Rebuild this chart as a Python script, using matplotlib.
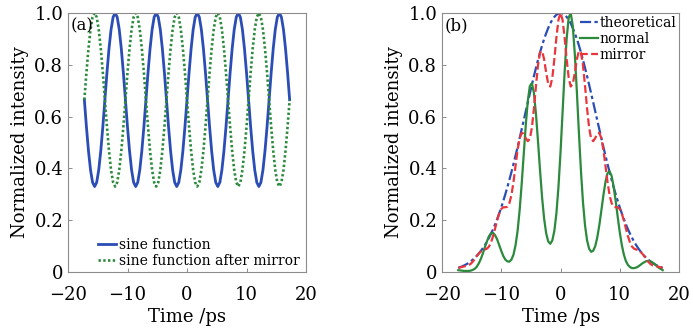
import numpy as np
import matplotlib
matplotlib.use("Agg")
import matplotlib.pyplot as plt

plt.rcParams['font.family'] = ['DejaVu Serif']
plt.rcParams['mathtext.fontset'] = 'dejavuserif'

# ---- time grid (ps) shared by all curves ----
t_start, t_end, n_pts = -17.25, 17.25, 101
time_ps = np.linspace(t_start, t_end, n_pts)

# ---- panel (a) ----
sine_function = [
    0.665, 0.561, 0.468, 0.394, 0.346, 0.330, 0.346, 0.394, 0.468, 0.561,
    0.665, 0.769, 0.862, 0.936, 0.984, 1.000, 0.984, 0.936, 0.862, 0.769,
    0.665, 0.561, 0.468, 0.394, 0.346, 0.330, 0.346, 0.394, 0.468, 0.561,
    0.665, 0.769, 0.862, 0.936, 0.984, 1.000, 0.984, 0.936, 0.862, 0.769,
    0.665, 0.561, 0.468, 0.394, 0.346, 0.330, 0.346, 0.394, 0.468, 0.561,
    0.665, 0.769, 0.862, 0.936, 0.984, 1.000, 0.984, 0.936, 0.862, 0.769,
    0.665, 0.561, 0.468, 0.394, 0.346, 0.330, 0.346, 0.394, 0.468, 0.561,
    0.665, 0.769, 0.862, 0.936, 0.984, 1.000, 0.984, 0.936, 0.862, 0.769,
    0.665, 0.561, 0.468, 0.394, 0.346, 0.330, 0.346, 0.394, 0.468, 0.561,
    0.665, 0.769, 0.862, 0.936, 0.984, 1.000, 0.984, 0.936, 0.862, 0.769,
    0.665,
]
sine_after_mirror = [
    0.665, 0.769, 0.862, 0.936, 0.984, 1.000, 0.984, 0.936, 0.862, 0.769,
    0.665, 0.561, 0.468, 0.394, 0.346, 0.330, 0.346, 0.394, 0.468, 0.561,
    0.665, 0.769, 0.862, 0.936, 0.984, 1.000, 0.984, 0.936, 0.862, 0.769,
    0.665, 0.561, 0.468, 0.394, 0.346, 0.330, 0.346, 0.394, 0.468, 0.561,
    0.665, 0.769, 0.862, 0.936, 0.984, 1.000, 0.984, 0.936, 0.862, 0.769,
    0.665, 0.561, 0.468, 0.394, 0.346, 0.330, 0.346, 0.394, 0.468, 0.561,
    0.665, 0.769, 0.862, 0.936, 0.984, 1.000, 0.984, 0.936, 0.862, 0.769,
    0.665, 0.561, 0.468, 0.394, 0.346, 0.330, 0.346, 0.394, 0.468, 0.561,
    0.665, 0.769, 0.862, 0.936, 0.984, 1.000, 0.984, 0.936, 0.862, 0.769,
    0.665, 0.561, 0.468, 0.394, 0.346, 0.330, 0.346, 0.394, 0.468, 0.561,
    0.665,
]

# ---- panel (b) ----
theoretical = [
    0.016, 0.019, 0.022, 0.026, 0.030, 0.035, 0.041, 0.047, 0.054, 0.062,
    0.071, 0.081, 0.092, 0.104, 0.117, 0.132, 0.148, 0.165, 0.184, 0.204,
    0.226, 0.249, 0.274, 0.300, 0.327, 0.356, 0.386, 0.417, 0.449, 0.482,
    0.516, 0.551, 0.585, 0.620, 0.655, 0.689, 0.723, 0.756, 0.788, 0.819,
    0.848, 0.875, 0.900, 0.922, 0.942, 0.960, 0.974, 0.985, 0.993, 0.998,
    1.000,
    0.998, 0.993, 0.985, 0.974, 0.960, 0.942, 0.922, 0.900, 0.875, 0.848,
    0.819, 0.788, 0.756, 0.723, 0.689, 0.655, 0.620, 0.585, 0.551, 0.516,
    0.482, 0.449, 0.417, 0.386, 0.356, 0.327, 0.300, 0.274, 0.249, 0.226,
    0.204, 0.184, 0.165, 0.148, 0.132, 0.117, 0.104, 0.092, 0.081, 0.071,
    0.062, 0.054, 0.047, 0.041, 0.035, 0.030, 0.026, 0.022, 0.019, 0.016,
]
normal = [
    0.007, 0.006, 0.005, 0.004, 0.004, 0.004, 0.005, 0.008, 0.012, 0.020,
    0.033, 0.050, 0.071, 0.095, 0.118, 0.138, 0.149, 0.151, 0.142, 0.126,
    0.104, 0.082, 0.062, 0.048, 0.041, 0.040, 0.048, 0.067, 0.103, 0.158,
    0.238, 0.339, 0.453, 0.566, 0.660, 0.718, 0.729, 0.691, 0.610, 0.504,
    0.391, 0.287, 0.205, 0.149, 0.118, 0.109, 0.122, 0.159, 0.227, 0.328,
    0.461, 0.615, 0.769, 0.900, 0.982, 1.000, 0.950, 0.842, 0.697, 0.538,
    0.391, 0.269, 0.180, 0.122, 0.090, 0.078, 0.082, 0.100, 0.134, 0.181,
    0.238, 0.297, 0.348, 0.381, 0.389, 0.371, 0.330, 0.274, 0.212, 0.153,
    0.104, 0.067, 0.042, 0.027, 0.019, 0.015, 0.015, 0.017, 0.021, 0.027,
    0.033, 0.038, 0.042, 0.043, 0.041, 0.037, 0.031, 0.024, 0.017, 0.012,
    0.007,
]
mirror = [
    0.016, 0.018, 0.020, 0.022, 0.023, 0.026, 0.031, 0.039, 0.049, 0.061,
    0.071, 0.079, 0.084, 0.087, 0.090, 0.098, 0.114, 0.138, 0.168, 0.199,
    0.226, 0.243, 0.250, 0.250, 0.252, 0.266, 0.297, 0.348, 0.410, 0.471,
    0.516, 0.537, 0.534, 0.517, 0.505, 0.514, 0.557, 0.631, 0.719, 0.799,
    0.848, 0.853, 0.821, 0.769, 0.726, 0.716, 0.750, 0.822, 0.906, 0.974,
    1.000,
    0.974, 0.906, 0.822, 0.750, 0.716, 0.726, 0.769, 0.821, 0.853, 0.848,
    0.799, 0.719, 0.631, 0.557, 0.514, 0.505, 0.517, 0.534, 0.537, 0.516,
    0.471, 0.410, 0.348, 0.297, 0.266, 0.252, 0.250, 0.250, 0.243, 0.226,
    0.199, 0.168, 0.138, 0.114, 0.098, 0.090, 0.087, 0.084, 0.079, 0.071,
    0.061, 0.049, 0.039, 0.031, 0.026, 0.023, 0.022, 0.020, 0.018, 0.016,
]

x_ticks = [-20, -10, 0, 10, 20]
x_tick_labels = ['\u221220', '\u221210', '0', '10', '20']
y_ticks = [0, 0.2, 0.4, 0.6, 0.8, 1.0]
y_tick_labels = ['0', '0.2', '0.4', '0.6', '0.8', '1.0']

BLUE = '#2a4db6'
GREEN = '#2b8a3c'
RED = '#e8363c'
SPINE = '#8c8c8c'

fig = plt.figure(figsize=(6.93, 3.36), dpi=100)
ax_a = fig.add_axes([68/693, 1 - 272/336, 238/693, 259/336])
ax_b = fig.add_axes([442/693, 1 - 272/336, 237/693, 259/336])

for ax in (ax_a, ax_b):
    ax.set_xlim(-20, 20)
    ax.set_ylim(0, 1.0)
    ax.set_xticks(x_ticks)
    ax.set_xticklabels(x_tick_labels)
    ax.set_yticks(y_ticks)
    ax.set_yticklabels(y_tick_labels)
    ax.tick_params(direction='in', length=3, width=0.7, color=SPINE,
                   labelsize=13)
    ax.tick_params(axis='x', pad=10)
    ax.tick_params(axis='y', pad=3.5)
    for s in ax.spines.values():
        s.set_color(SPINE)
        s.set_linewidth(0.8)
    ax.set_xlabel('Time /ps', fontsize=13, labelpad=3)
    ax.set_ylabel('Normalized intensity', fontsize=13, labelpad=4)

# panel (a)
ax_a.plot(time_ps, sine_function, color=BLUE, lw=2.0, label='sine function')
ax_a.plot(time_ps, sine_after_mirror, color=GREEN, lw=1.9, ls=(0, (0.9, 0.9)),
          label='sine function after mirror')
ax_a.legend(loc='lower left', bbox_to_anchor=(0.11, 0.0), frameon=False,
            fontsize=10, handlelength=1.3, handletextpad=0.2,
            labelspacing=0.15, borderaxespad=0.2, borderpad=0.1)
ax_a.text(0.01, 0.985, '(a)', transform=ax_a.transAxes, ha='left', va='top',
          fontsize=12)

# panel (b)
ax_b.plot(time_ps, theoretical, color=BLUE, lw=1.6, ls=(0, (5, 1.5, 1.5, 1.5)),
          label='theoretical')
ax_b.plot(time_ps, normal, color=GREEN, lw=1.6, label='normal')
ax_b.plot(time_ps, mirror, color=RED, lw=1.6, ls=(0, (3.5, 1.5)), label='mirror')
ax_b.legend(loc='upper right', bbox_to_anchor=(1.0, 1.0), frameon=False,
            fontsize=10, handlelength=1.3, handletextpad=0.1,
            labelspacing=0.15, borderaxespad=0.1, borderpad=0.1)
ax_b.text(0.01, 0.985, '(b)', transform=ax_b.transAxes, ha='left', va='top',
          fontsize=12)

fig.savefig('out.png', dpi=100)
